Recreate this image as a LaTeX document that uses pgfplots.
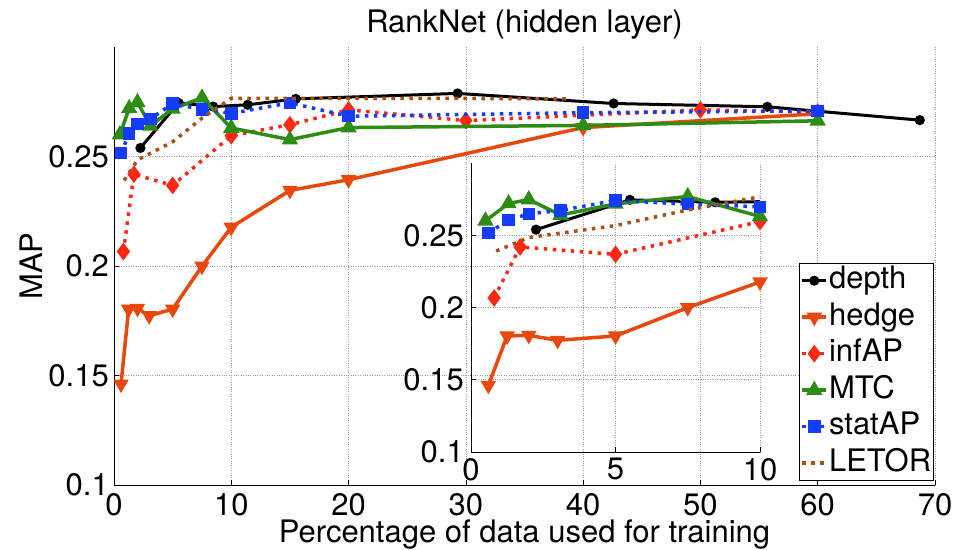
\documentclass[border=0pt]{standalone}
\usepackage{fontspec}
\setmainfont{TeX Gyre Heros}
\usepackage{pgfplots}
\pgfplotsset{compat=1.18}
\usepackage{pgfplotstable}
\usetikzlibrary{calc}

\definecolor{hedgec}{RGB}{232,72,12}
\definecolor{infapc}{RGB}{255,40,20}
\definecolor{mtcc}{RGB}{45,140,20}
\definecolor{statc}{RGB}{20,60,255}
\definecolor{letorc}{RGB}{170,80,20}

\newcommand\fsz{\fontsize{31bp}{37bp}\selectfont}

\pgfplotstableread{
x y
2.25 0.2539
5.5 0.2745
8.45 0.2728
11.4 0.2736
15.5 0.2763
29.3 0.2788
42.6 0.2742
55.7 0.2727
68.7 0.2666
}\depthdata

\pgfplotstableread{
x y
0.6 0.1461
1.25 0.1803
2 0.1807
3 0.1773
5 0.1803
7.5 0.1999
10 0.2177
15 0.2345
20 0.2394
40 0.2632
60 0.2695
}\hedgedata

\pgfplotstableread{
x y
0.8 0.2066
1.7 0.2419
5 0.2368
10 0.2595
15 0.2645
20 0.2713
30 0.2664
50 0.2713
60 0.2703
}\infapdata

\pgfplotstableread{
x y
0.5 0.2600
1.3 0.2720
2 0.2747
3.1 0.2640
5 0.2717
7.5 0.2768
10 0.2630
15 0.2577
20 0.2632
40 0.2642
60 0.2663
}\mtcdata

\pgfplotstableread{
x y
0.6 0.2516
1.3 0.2605
2 0.2648
3.1 0.2672
5 0.2741
7.5 0.2715
10 0.2697
15 0.2745
20 0.2684
40 0.2700
60 0.2708
}\statdata

\pgfplotstableread{
x y
0.87 0.2391
2 0.2484
5 0.2567
7.5 0.2675
10 0.2766
15 0.2765
20 0.2765
30 0.2765
39 0.2763
}\letordata

\pgfplotsset{
  common/.style={
    scale only axis,
    axis lines*=left,
    grid=major,
    grid style={dotted, gray!80, line width=0.7bp},
    tick align=inside,
    major tick length=5bp,
    tick style={black, line width=0.7bp},
    axis line style={black, line width=0.8bp},
    ymin=0.1, ymax=0.3,
    ytick={0.1,0.15,0.2,0.25},
    /pgf/number format/assume math mode=true,
    tick label style={font=\fsz},
    label style={font=\fsz},
    title style={font=\fsz},
    clip mode=individual,
  },
  pdepth/.style={black, line width=3bp, mark=*, mark size=3.5bp, mark options={solid}},
  phedge/.style={hedgec, line width=3.5bp, mark=triangle*, mark size=5.5bp, mark options={solid, rotate=180}},
  pinfap/.style={infapc, line width=3.5bp, dash pattern=on 3.5bp off 5.5bp, mark=diamond*, mark size=6bp, mark options={solid}},
  pmtc/.style={mtcc, line width=3.5bp, mark=triangle*, mark size=6bp, mark options={solid}},
  pstat/.style={statc, line width=3.5bp, dash pattern=on 3.5bp off 5.5bp, mark=square*, mark size=4.5bp, mark options={solid}},
  pletor/.style={letorc, line width=3.5bp, dash pattern=on 3.5bp off 5.5bp},
}

\begin{document}
\begin{tikzpicture}[font=\fsz]
\begin{axis}[common,
  name=main,
  width=821bp, height=438bp,
  xmin=0, xmax=70,
  xtick={0,10,...,70},
  yticklabel style={inner sep=0pt, anchor=east, xshift=-5bp},
  xticklabel style={inner sep=0pt, anchor=north, yshift=-8.5bp},
  title={RankNet (hidden layer)},
  title style={at={(axis description cs:0.5,1.0194)}, anchor=base, inner sep=0pt},
  xlabel={Percentage of data used for training},
  xlabel style={at={(axis description cs:0.5,-0.1302)}, anchor=base, inner sep=0pt},
  ylabel={MAP},
  ylabel style={at={(axis description cs:-0.0865,0.5)}, anchor=base, rotate=0, inner sep=0pt},
  legend style={at={(axis description cs:0.9988,0.009)}, anchor=south east,
    draw=black, line width=0.7bp, fill=white, font=\fsz,
    inner xsep=1.5bp, inner ysep=1bp, row sep=3.5bp,
    nodes={inner xsep=1bp, inner ysep=1.5bp, text height=23bp, text depth=7bp},
    cells={anchor=west}},
  legend image code/.code={\draw[mark repeat=2,mark phase=2,#1] plot coordinates {(0bp,0bp) (12bp,0bp) (24bp,0bp)};},
]
\addplot[pdepth] table {\depthdata};
\addlegendentry{depth}
\addplot[phedge] table {\hedgedata};
\addlegendentry{hedge}
\addplot[pinfap] table {\infapdata};
\addlegendentry{infAP}
\addplot[pmtc] table {\mtcdata};
\addlegendentry{MTC}
\addplot[pstat] table {\statdata};
\addlegendentry{statAP}
\addplot[pletor] table {\letordata};
\addlegendentry{LETOR}
\end{axis}

\begin{axis}[common,
  at={($(main.south west)+(357bp,33bp)$)}, anchor=south west,
  width=289bp, height=289bp,
  xmin=0, xmax=10,
  xtick={0,5,10},
  yticklabel style={inner sep=0pt, anchor=east, xshift=-7bp},
  xticklabel style={inner sep=0pt, anchor=north, yshift=-6bp},
]
\addplot[pdepth, mark=none] table {\depthdata};
\addplot[pdepth, only marks, restrict x to domain=0:10.2] table {\depthdata};
\addplot[phedge, restrict x to domain=0:10.2] table {\hedgedata};
\addplot[pinfap, restrict x to domain=0:10.2] table {\infapdata};
\addplot[pmtc, restrict x to domain=0:10.2] table {\mtcdata};
\addplot[pstat, restrict x to domain=0:10.2] table {\statdata};
\addplot[pletor, restrict x to domain=0:10.2] table {\letordata};
\end{axis}

\pgfresetboundingbox
\path[use as bounding box] ($(main.south west)+(-114bp,-65bp)$) rectangle ($(main.south west)+(843bp,485bp)$);
\end{tikzpicture}
\end{document}
